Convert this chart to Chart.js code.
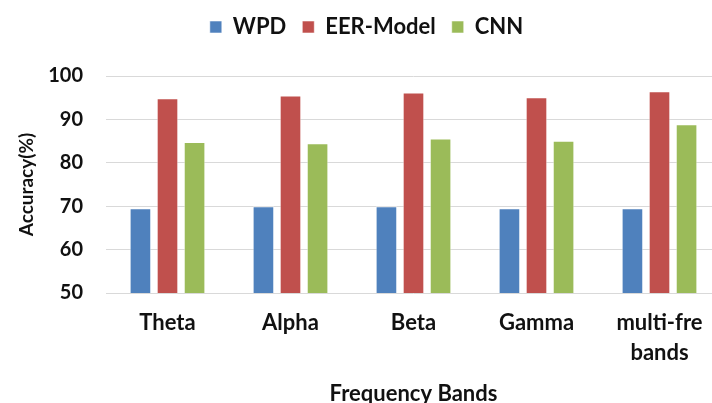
<!DOCTYPE html>
<html>
<head>
<meta charset="utf-8">
<script src="https://cdn.jsdelivr.net/npm/chart.js@4"></script>
<style>
  html, body { margin: 0; padding: 0; background: #fff; overflow: hidden; }
  #wrap { position: absolute; left: 0; top: 0; width: 730px; height: 407px; }
</style>
</head>
<body>
<div id="wrap"><canvas id="chart" width="730" height="407"></canvas></div>
<script>
// Frequency bands on the x axis
const bands = ['Theta', 'Alpha', 'Beta', 'Gamma', ['multi-fre', 'bands']];

// Accuracy (%) for each method
const wpd = [69.5, 70.0, 70.0, 69.5, 69.5];
const eerModel = [94.9, 95.5, 96.2, 95.1, 96.5];
const cnn = [84.8, 84.5, 85.6, 85.1, 88.9];

const yTicks = [50, 60, 70, 80, 90, 100];

const FONT = 'Lato, "Liberation Sans", sans-serif';
const INK = '#111111';

// Give the legend a fixed band above the plot area
const legendBand = {
  id: 'legendBand',
  beforeLayout(chart) {
    const legend = chart.legend;
    if (legend && !legend._bandFit) {
      const fit = legend.fit;
      legend.fit = function () {
        fit.call(this);
        this.height = 76;
      };
      legend._bandFit = true;
    }
  }
};

new Chart(document.getElementById('chart'), {
  type: 'bar',
  data: {
    labels: bands,
    datasets: [
      { label: 'WPD', data: wpd, backgroundColor: '#4F81BD', borderColor: 'rgba(255,255,255,0.55)', borderWidth: 1 },
      { label: 'EER-Model', data: eerModel, backgroundColor: '#C0504D', borderColor: 'rgba(255,255,255,0.55)', borderWidth: 1 },
      { label: 'CNN', data: cnn, backgroundColor: '#9BBB59', borderColor: 'rgba(255,255,255,0.55)', borderWidth: 1 }
    ]
  },
  plugins: [legendBand],
  options: {
    responsive: false,
    animation: false,
    events: [],
    layout: { padding: { left: 12, right: 9, top: 0, bottom: 0 } },
    datasets: {
      bar: { categoryPercentage: 0.66, barPercentage: 0.8 }
    },
    plugins: {
      tooltip: { enabled: false },
      legend: {
        position: 'top',
        labels: {
          font: { family: FONT, size: 22, weight: 'bold' },
          color: INK,
          boxWidth: 12,
          boxHeight: 12,
          padding: 16
        }
      }
    },
    scales: {
      x: {
        grid: { display: false, drawTicks: false },
        border: { display: false },
        ticks: {
          font: { family: FONT, size: 22, weight: 'bold', lineHeight: 1.36 },
          color: INK,
          padding: 15,
          maxRotation: 0
        },
        title: {
          display: true,
          text: 'Frequency Bands',
          font: { family: FONT, size: 22, weight: 'bold' },
          color: INK,
          padding: { top: 10, bottom: 0 }
        },
        afterFit(scale) { scale.height = 114; }
      },
      y: {
        min: 50,
        max: 100,
        afterBuildTicks(scale) { scale.ticks = yTicks.map(v => ({ value: v })); },
        grid: { color: '#D9D9D9', lineWidth: 1, drawTicks: false },
        border: { display: false },
        ticks: {
          font: { family: FONT, size: 20, weight: 'bold' },
          color: INK,
          padding: 23
        },
        title: {
          display: true,
          text: 'Accuracy(%)',
          font: { family: FONT, size: 19, weight: 'bold' },
          color: INK,
          padding: { top: 3, bottom: 0 }
        },
        afterFit(scale) { scale.width = 94; }
      }
    }
  }
});
</script>
</body>
</html>
